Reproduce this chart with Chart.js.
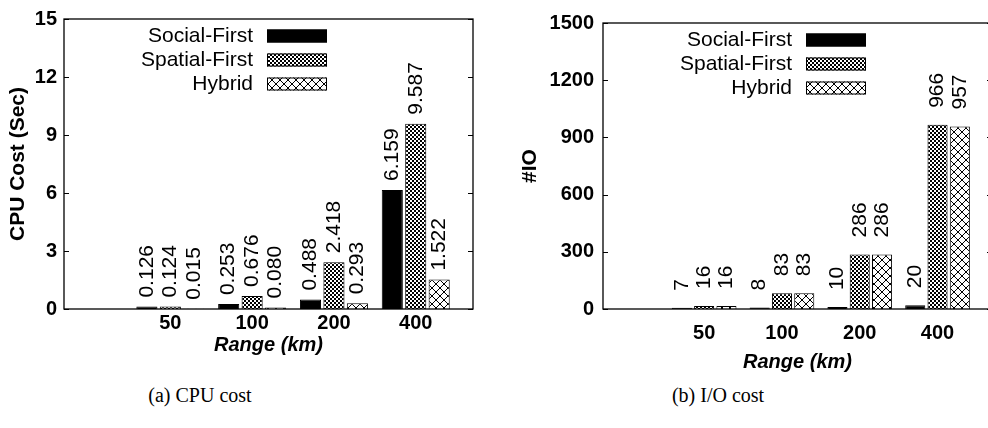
<!DOCTYPE html>
<html><head><meta charset="utf-8">
<script src="https://cdn.jsdelivr.net/npm/chart.js@4.4.0/dist/chart.umd.min.js"></script>
<style>
html,body{margin:0;padding:0;background:#fff;overflow:hidden;width:988px;height:428px;}
#wrapA{position:absolute;left:0;top:0;width:494px;height:375px;}
#wrapB{position:absolute;left:494px;top:0;width:506px;height:375px;}
.cap{position:absolute;top:384px;font-family:"Liberation Serif","DejaVu Serif",serif;font-size:20px;color:#000;white-space:nowrap;transform:translateX(-50%);}
</style></head><body>
<div id="wrapA"><canvas id="cA" width="494" height="375"></canvas></div>
<div id="wrapB"><canvas id="cB" width="506" height="375"></canvas></div>
<div class="cap" style="left:200px">(a) CPU cost</div>
<div class="cap" style="left:718px">(b) I/O cost</div>
<script>
// ---- data ----
const categories = ['50', '100', '200', '400'];
const seriesNames = ['Social-First', 'Spatial-First', 'Hybrid'];
const cpuSocial  = [0.126, 0.253, 0.488, 6.159];
const cpuSpatial = [0.124, 0.676, 2.418, 9.587];
const cpuHybrid  = [0.015, 0.080, 0.293, 1.522];
const ioSocial   = [7, 8, 10, 20];
const ioSpatial  = [16, 83, 286, 966];
const ioHybrid   = [16, 83, 286, 957];
const cpuTicks = [0, 3, 6, 9, 12, 15];
const ioTicks  = [0, 300, 600, 900, 1200, 1500];

const FAM = "'Liberation Sans', Arial, Helvetica, sans-serif";
Chart.defaults.font.family = FAM;
Chart.defaults.color = '#000';

function patSpatial() {
  const c = document.createElement('canvas'); c.width = 4; c.height = 4;
  const g = c.getContext('2d');
  g.fillStyle = '#fff'; g.fillRect(0, 0, 4, 4);
  g.fillStyle = '#000'; g.fillRect(0, 0, 2, 2); g.fillRect(2, 2, 2, 2);
  return g.createPattern(c, 'repeat');
}
function patHybrid() {
  const n = 8;
  const c = document.createElement('canvas'); c.width = n; c.height = n;
  const g = c.getContext('2d');
  g.fillStyle = '#fff'; g.fillRect(0, 0, n, n);
  g.strokeStyle = '#000'; g.lineWidth = 1;
  for (const k of [-n, 0, n]) {
    g.beginPath(); g.moveTo(k, 0); g.lineTo(k + n, n); g.stroke();
    g.beginPath(); g.moveTo(k + n, 0); g.lineTo(k, n); g.stroke();
  }
  return g.createPattern(c, 'repeat');
}
const fills = ['#000', patSpatial(), patHybrid()];

const gpPlugin = {
  id: 'gp',
  afterDatasetsDraw(chart, args, o) {
    const ctx = chart.ctx, a = chart.chartArea, y = chart.scales.y;
    ctx.save();
    // data labels
    ctx.fillStyle = '#000';
    ctx.font = '21px ' + FAM;
    chart.data.datasets.forEach((ds, di) => {
      const meta = chart.getDatasetMeta(di);
      meta.data.forEach((el, i) => {
        const v = ds.data[i].y;
        ctx.save();
        ctx.translate(el.x, el.y - o.labelOff);
        ctx.rotate(-Math.PI / 2);
        ctx.textAlign = 'left'; ctx.textBaseline = 'middle';
        ctx.fillText(o.fmt(v), 0, 0);
        ctx.restore();
      });
    });
    // frame
    ctx.strokeStyle = '#000'; ctx.lineWidth = 1.3;
    ctx.strokeRect(a.left, a.top, a.right - a.left, a.bottom - a.top);
    // inner ticks on y (both sides)
    ctx.lineWidth = 1;
    y.ticks.forEach(t => {
      const py = Math.round(y.getPixelForValue(t.value)) + 0.5;
      ctx.beginPath();
      ctx.moveTo(a.left, py); ctx.lineTo(a.left + 5, py);
      ctx.moveTo(a.right, py); ctx.lineTo(a.right - 5, py);
      ctx.stroke();
    });
    // legend
    ctx.font = '21px ' + FAM;
    ctx.textAlign = 'right'; ctx.textBaseline = 'middle';
    const sx = a.left + o.legendDX;
    chart.data.datasets.forEach((ds, i) => {
      const cy = a.top + o.legendTop + i * 24;
      ctx.fillStyle = '#000';
      ctx.fillText(ds.label, sx - 14, cy);
      ctx.fillStyle = ds.backgroundColor;
      ctx.fillRect(sx, cy - 6.5, 60, 13);
      ctx.strokeStyle = '#000'; ctx.lineWidth = 1;
      ctx.strokeRect(sx + 0.5, cy - 6, 59, 12);
    });
    ctx.restore();
  }
};

function makeChart(id, series, ticksArr, yTitle, cfg) {
  const datasets = series.map((vals, i) => ({
    label: seriesNames[i],
    data: vals.map((v, j) => ({ x: j, y: v })),
    backgroundColor: fills[i],
    borderColor: '#000',
    borderWidth: 1,
    categoryPercentage: 0.86,
    barPercentage: 0.9
  }));
  return new Chart(document.getElementById(id), {
    type: 'bar',
    data: { datasets },
    plugins: [gpPlugin],
    options: {
      responsive: false,
      animation: false,
      devicePixelRatio: 1,
      layout: { padding: { left: 0, top: cfg.top, right: cfg.right, bottom: 0 } },
      plugins: {
        legend: { display: false },
        tooltip: { enabled: false },
        gp: { legendDX: 203, legendTop: 17, labelOff: cfg.labelOff, fmt: cfg.fmt }
      },
      scales: {
        x: {
          type: 'linear', min: -1.3, max: 3.7, offset: false,
          grid: { display: false, drawTicks: false },
          border: { display: false },
          afterBuildTicks: s => { s.ticks = categories.map((c, i) => ({ value: i })); },
          ticks: {
            callback: v => categories[v] ?? '',
            font: { size: 20, weight: 'bold' }, color: '#000',
            padding: cfg.xPad, maxRotation: 0, autoSkip: false
          },
          title: {
            display: true, text: 'Range (km)', color: '#000',
            font: { size: 20, weight: 'bold', style: 'italic', lineHeight: 1 },
            padding: { top: 0, bottom: cfg.xTitleBottom }
          },
          afterFit: s => { s.height = 66; }
        },
        y: {
          min: ticksArr[0], max: ticksArr[ticksArr.length - 1],
          grid: { display: false, drawTicks: false },
          border: { display: false },
          afterBuildTicks: s => { s.ticks = ticksArr.map(v => ({ value: v })); },
          ticks: {
            callback: v => String(v),
            font: { size: 20, weight: 'bold' }, color: '#000', padding: cfg.yPad
          },
          title: {
            display: true, text: yTitle, color: '#000',
            font: { size: 21, weight: 'bold', lineHeight: 1 },
            padding: { top: cfg.yTitleTop, bottom: 0 }
          },
          afterFit: s => { s.width = cfg.yWidth; }
        }
      }
    }
  });
}

makeChart('cA', [cpuSocial, cpuSpatial, cpuHybrid], cpuTicks, 'CPU Cost (Sec)', {
  top: 15, right: 21, yWidth: 64, yPad: 7, yTitleTop: 7.5, xPad: 2, xTitleBottom: 20,
  labelOff: 9, fmt: v => v.toFixed(3)
});
makeChart('cB', [ioSocial, ioSpatial, ioHybrid], ioTicks, '#IO', {
  top: 23, right: 8, yWidth: 109, yPad: 9, yTitleTop: 25.5, xPad: 12, xTitleBottom: 3,
  labelOff: 17, fmt: v => String(v)
});
</script>
</body></html>
